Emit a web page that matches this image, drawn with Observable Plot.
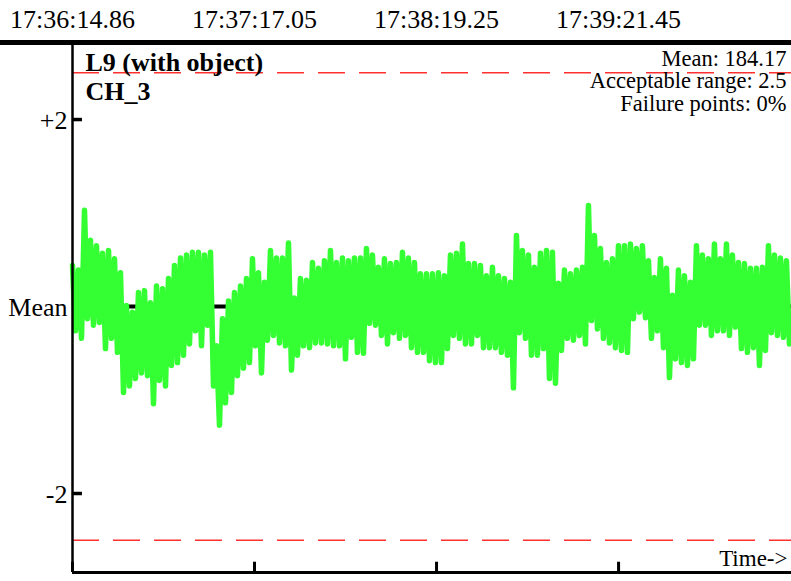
<!DOCTYPE html>
<html>
<head>
<meta charset="utf-8">
<script src="https://cdn.jsdelivr.net/npm/d3@7"></script>
<script src="https://cdn.jsdelivr.net/npm/@observablehq/plot@0.6"></script>
<style>
  html, body { margin: 0; padding: 0; background: #fff; }
  #chart svg { display: block; }
  #chart svg, #chart svg text { font-family: "Liberation Serif", "Times New Roman", serif; }
</style>
</head>
<body>
<div id="chart"></div>
<script>
// ---- data ----
const tickLabels = ["17:36:14.86", "17:37:17.05", "17:38:19.25", "17:39:21.45"];
const tickTimes = [0, 62.19, 124.39, 186.59];        // seconds since first label
const timeEnd = 245.68;                                 // right edge of the plot, seconds
const sampleStep = 1.025;                               // seconds between readings
const yTicks = [2, 0, -2];
const yTickLabels = ["+2", "Mean", "-2"];
const acceptableRange = 2.5;
const meanValue = 184.17;
const failurePoints = "0%";
const title = "L9 (with object)";
const channel = "CH_3";

// CH_3 deviation from mean (units of the y axis), alternating peak / trough readings
const ch3 = [
  0.44,-0.26, 0.39,-0.34, 1.03,-0.13, 0.71,-0.20, 0.65,-0.17, 0.57,-0.45, 0.60,-0.34, 0.51,-0.49, 0.36,-0.92, 0.01,-0.85,
  -0.06,-0.77, 0.15,-0.71, 0.17,-0.74, 0.04,-1.04, 0.22,-0.79, 0.19,-0.85, 0.30,-0.63, 0.44,-0.60, 0.52,-0.52, 0.55,-0.40,
  0.58,-0.26, 0.58,-0.42, 0.55,-0.20, 0.58,-0.85, -0.42,-1.27, -0.13,-1.03, 0.06,-0.92, 0.15,-0.74, 0.22,-0.66, 0.30,-0.60,
  0.51,-0.42, 0.36,-0.71, 0.26,-0.36, 0.60,-0.31, 0.52,-0.39, 0.52,-0.42, 0.68,-0.68, 0.09,-0.52, 0.30,-0.42, 0.28,-0.44,
  0.47,-0.39, 0.41,-0.39, 0.49,-0.40, 0.60,-0.42, 0.47,-0.42, 0.52,-0.56, 0.49,-0.33, 0.52,-0.49, 0.52,-0.50, 0.62,-0.18,
  0.55,-0.20, 0.42,-0.31, 0.51,-0.40, 0.46,-0.28, 0.47,-0.34, 0.58,-0.31, 0.52,-0.44, 0.47,-0.49, 0.35,-0.49, 0.35,-0.58,
  0.35,-0.60, 0.36,-0.60, 0.33,-0.45, 0.55,-0.31, 0.57,-0.34, 0.67,-0.40, 0.46,-0.40, 0.46,-0.31, 0.44,-0.44, 0.33,-0.44,
  0.42,-0.44, 0.33,-0.49, 0.30,-0.52, 0.26,-0.87, 0.76,-0.28, 0.60,-0.34, 0.55,-0.52, 0.42,-0.52, 0.57,-0.45, 0.60,-0.77,
  0.58,-0.82, 0.25,-0.47, 0.39,-0.34, 0.35,-0.36, 0.39,-0.31, 0.42,-0.40, 1.08,-0.15, 0.76,-0.24, 0.62,-0.34, 0.47,-0.39,
  0.51,-0.44, 0.65,-0.47, 0.65,-0.49, 0.67,-0.13, 0.62,-0.06, 0.65,-0.12, 0.49,-0.34, 0.31,-0.26, 0.51,-0.44, 0.41,-0.76,
  0.12,-0.56, 0.39,-0.60, 0.33,-0.63, 0.26,-0.56, 0.65,-0.20, 0.55,-0.20, 0.51,-0.31, 0.67,-0.26, 0.51,-0.26, 0.67,-0.31,
  0.55,-0.22, 0.47,-0.45, 0.46,-0.49, 0.41,-0.44, 0.41,-0.63, 0.42,-0.47, 0.65,-0.28, 0.55,-0.31, 0.52,-0.33, 0.49,-0.40
];

const yMin = -2.845, yMax = 2.824;

// ---- tables built from the arrays ----
const series = ch3.map((v, i) => ({t: i * sampleStep, v}));
const topTicks = tickTimes.map((t, i) => ({t, label: tickLabels[i]}));
const yLabels = yTicks.map((y, i) => ({y, label: yTickLabels[i]}));

const font = "Liberation Serif";
const txt = (o) => ({fill: "#000", fontFamily: font, ...o});

const chart = Plot.plot({
  width: 791,
  height: 581,
  marginLeft: 0,
  marginRight: 0,
  marginTop: 42,
  marginBottom: 9,
  x: {domain: [0, timeEnd], range: [72, 791], axis: null},
  y: {domain: [yMin, yMax], axis: null},
  style: {fontFamily: font, background: "#fff", color: "#000", overflow: "visible"},
  marks: [
    // acceptable range limits
    Plot.ruleY([acceptableRange, -acceptableRange], {x1: 0, x2: timeEnd, stroke: "#ff3030", strokeWidth: 1.6, strokeDasharray: "27,14"}),
    // mean line
    Plot.ruleY([0], {x1: 0, x2: timeEnd, stroke: "#000", strokeWidth: 4}),
    // signal
    Plot.line(series, {x: "t", y: "v", stroke: "#33ff33", strokeWidth: 5.5, strokeLinejoin: "round", strokeLinecap: "round"}),
    // top bar
    Plot.ruleY([yMax], {stroke: "#000", strokeWidth: 5}),
    // left axis
    Plot.ruleX([0], {y1: yMin, y2: yMax, stroke: "#000", strokeWidth: 2.5}),
    // bottom axis
    Plot.ruleY([yMin], {x1: 0, x2: timeEnd, stroke: "#000", strokeWidth: 3}),
    // bottom ticks
    Plot.ruleX(tickTimes, {y1: yMin, y2: yMin + 0.11, stroke: "#000", strokeWidth: 3}),
    // y ticks (+2, -2)
    Plot.ruleY([2, -2], {x1: 0, x2: 3.4, stroke: "#000", strokeWidth: 3.5}),
    // y labels
    Plot.text(yLabels, txt({x: () => 0, y: "y", text: "label", textAnchor: "end", dx: -5, dy: 1, fontSize: 26})),
    // time labels on top
    Plot.text(topTicks, txt({x: "t", text: "label", frameAnchor: "top", lineAnchor: "bottom", dy: -15, fontSize: 26})),
    // title lines
    Plot.text([title], txt({frameAnchor: "top-left", textAnchor: "start", lineAnchor: "bottom", dx: 85, dy: 28, fontSize: 26, fontWeight: "bold"})),
    Plot.text([channel], txt({frameAnchor: "top-left", textAnchor: "start", lineAnchor: "bottom", dx: 85, dy: 57, fontSize: 26, fontWeight: "bold"})),
    // stats
    Plot.text([`Mean: ${meanValue}`], txt({frameAnchor: "top-right", textAnchor: "end", lineAnchor: "bottom", dx: -5, dy: 23, fontSize: 22.5})),
    Plot.text([`Acceptable range: ${acceptableRange}`], txt({frameAnchor: "top-right", textAnchor: "end", lineAnchor: "bottom", dx: -5, dy: 45, fontSize: 22.5})),
    Plot.text([`Failure points: ${failurePoints}`], txt({frameAnchor: "top-right", textAnchor: "end", lineAnchor: "bottom", dx: -5, dy: 68, fontSize: 22.5})),
    // time arrow label
    Plot.text(["Time->"], txt({frameAnchor: "bottom-right", textAnchor: "end", lineAnchor: "bottom", dx: -4, dy: -7, fontSize: 23}))
  ]
});

document.getElementById("chart").appendChild(chart);
</script>
</body>
</html>
